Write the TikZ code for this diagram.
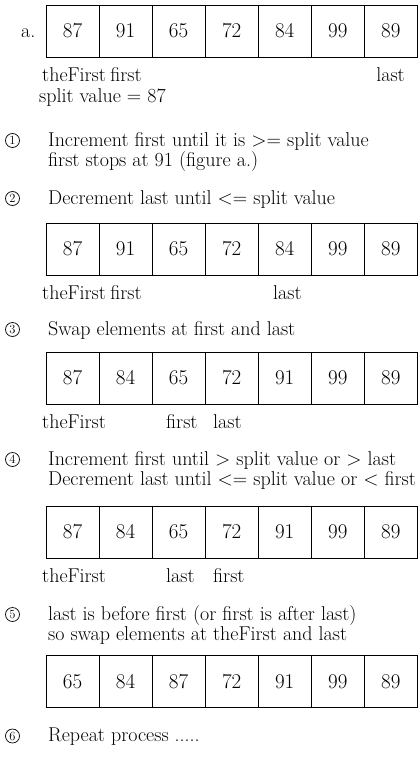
\documentclass[tikz,border=0pt]{standalone}
\usetikzlibrary{positioning}

\tikzset{
    cell/.style={draw, line width=0.8pt, minimum width=53.05pt, minimum height=52pt, inner sep=0pt, font=\fontsize{21}{24}\selectfont},
    txt/.style={inner sep=0pt, anchor=base west, font=\fontsize{20}{22}\selectfont},
    stepnum/.style={draw, circle, line width=0.7pt, minimum size=14pt, inner sep=0pt, font=\fontsize{12.5}{12.5}\selectfont},
}

\begin{document}
\begin{tikzpicture}[x=1pt,y=-1pt]
    \useasboundingbox (0,0) rectangle (418,763);

    %figure a.
    \foreach \v [count=\i] in {87,91,65,72,84,99,89}
        \node[cell] (a\i) at ({72.5+53.05*(\i-1)},31) {\v};
    \node[txt, anchor=base east] (fa) at ([xshift=-10pt]a1.base west) {a.};
    \node[txt] (t1) at (42,81) {theFirst};
    \node[txt, base right=4pt of t1] (f1) {first};
    \node[txt, anchor=base east] (l1) at (405,81) {last};
    \node[txt] (sv) at (39,102) {split value = 87};

    %step 1
    \node[stepnum] (n1) at (12.5,140.5) {1};
    \node[txt] (s1) at (48,146) {Increment first until it is >= split value};
    \node[txt] (s1b) at (48,166) {first stops at 91 (figure a.)};

    %step 2
    \node[stepnum] (n2) at (12.5,198.5) {2};
    \node[txt] (s2) at (48,204) {Decrement last until <= split value};
    \foreach \v [count=\i] in {87,91,65,72,84,99,89}
        \node[cell] (b\i) at ({72.5+53.05*(\i-1)},249) {\v};
    \node[txt] (t2) at (42,299) {theFirst};
    \node[txt, base right=4pt of t2] (f2) {first};
    \node[txt] (l2) at (273,299) {last};

    %step 3
    \node[stepnum] (n3) at (12.5,329.5) {3};
    \node[txt] (s3) at (48,335) {Swap elements at first and last};
    \foreach \v [count=\i] in {87,84,65,72,91,99,89}
        \node[cell] (c\i) at ({72.5+53.05*(\i-1)},378) {\v};
    \node[txt] (t3) at (42,428) {theFirst};
    \node[txt] (f3) at (166,428) {first};
    \node[txt] (l3) at (213,428) {last};

    %step 4
    \node[stepnum] (n4) at (12.5,459.5) {4};
    \node[txt] (s4) at (48,465) {Increment first until > split value or > last};
    \node[txt] (s4b) at (48,485) {Decrement last until <= split value or < first};
    \foreach \v [count=\i] in {87,84,65,72,91,99,89}
        \node[cell] (d\i) at ({72.5+53.05*(\i-1)},532) {\v};
    \node[txt] (t4) at (42,582) {theFirst};
    \node[txt] (l4) at (166,582) {last};
    \node[txt] (f4) at (213,582) {first};

    %step 5
    \node[stepnum] (n5) at (12.5,614.5) {5};
    \node[txt] (s5) at (48,620) {last is before first (or first is after last)};
    \node[txt] (s5b) at (48,640) {so swap elements at theFirst and last};
    \foreach \v [count=\i] in {65,84,87,72,91,99,89}
        \node[cell] (e\i) at ({72.5+53.05*(\i-1)},681.5) {\v};

    %step 6
    \node[stepnum] (n6) at (12.5,736) {6};
    \node[txt] (s6) at (48,741.5) {Repeat process .....};
\end{tikzpicture}
\end{document}
